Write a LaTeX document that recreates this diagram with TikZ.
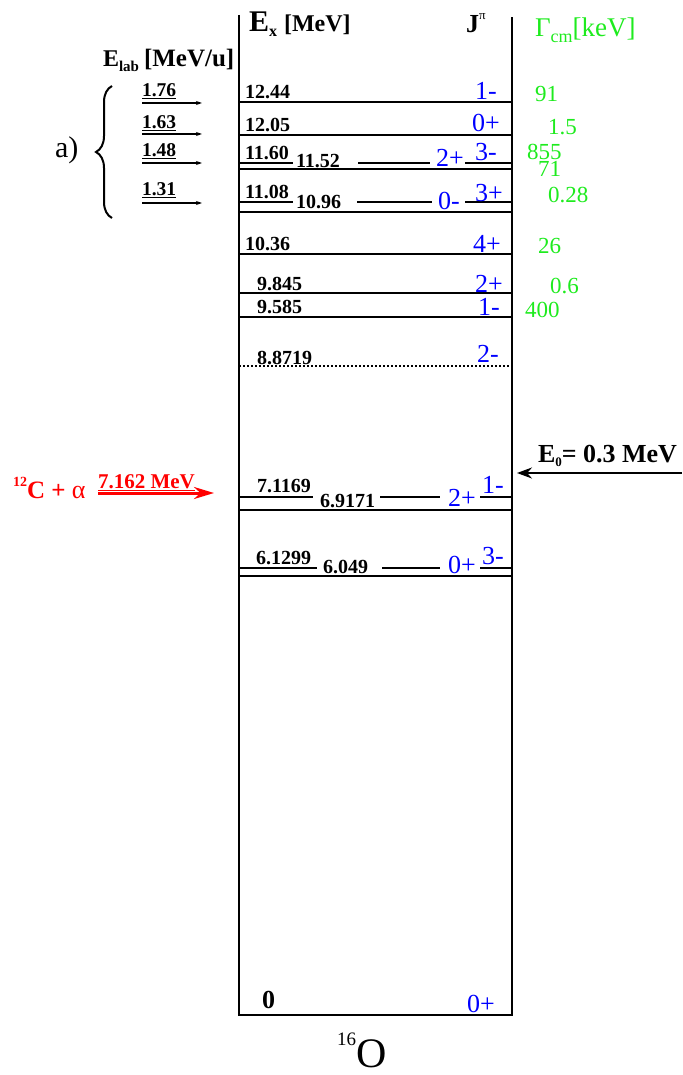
\documentclass[tikz,border=0pt]{standalone}
\usepackage{fontspec}
\setmainfont{Liberation Serif}
\usetikzlibrary{arrows.meta,decorations.pathreplacing}
\definecolor{jblue}{RGB}{0,0,255}
\definecolor{ggreen}{RGB}{30,235,30}
\definecolor{cred}{RGB}{255,0,0}
\newcommand{\fsz}[1]{\fontsize{#1}{#1}\selectfont}
\begin{document}
\begin{tikzpicture}[x=1pt,y=-1pt,
  every node/.style={inner sep=0pt,outer sep=0pt},
  lev/.style={line width=2pt},
  boxline/.style={line width=2.2pt},
  ex/.style={anchor=base west,font=\fsz{20}\bfseries},
  jp/.style={anchor=base west,text=jblue,font=\fsz{26}},
  gam/.style={anchor=base west,text=ggreen,font=\fsz{23}},
  elab/.style={anchor=base west,font=\fsz{19.5}\bfseries},
  smallarrow/.style={line width=1.3pt,-{Stealth[length=6pt,width=4pt]}}]
\useasboundingbox (0,0) rectangle (682,1075);

% box
\coordinate (tl) at (239,15);
\coordinate (tr) at (512,17);
\coordinate (bl) at (239,1015);
\coordinate (br) at (512,1015);
\draw[boxline] (tl) -- (bl) -- (br) -- (tr);

% full levels
\foreach \yy in {102,135,169,212,254,293,317,510,576}
  \draw[lev] (239,\yy) -- (512,\yy);
% segmented levels
\draw[lev] (239,163.5) -- (293,163.5) (358,163.5) -- (430,163.5) (465,163.5) -- (512,163.5);
\draw[lev] (239,202) -- (293,202) (357,202) -- (432,202) (465,202) -- (512,202);
\draw[lev] (239,496.5) -- (313,496.5) (380,496.5) -- (440,496.5) (480,496.5) -- (512,496.5);
\draw[lev] (239,568) -- (317,568) (382,568) -- (440,568) (480,568) -- (512,568);
% dotted level
\draw[line width=2pt,dash pattern=on 2pt off 2pt] (239,366) -- (512,366);

% headers
\node[anchor=base west] (hex) at (249,32) {{\fsz{30}\bfseries E}\raisebox{-5pt}{\fsz{16}\bfseries x}\hspace{7pt}{\fsz{24}\bfseries [MeV]}};
\node[anchor=base west] (hj) at (466,33) {{\fsz{26}\bfseries J}\raisebox{13pt}{\fsz{13}π}};
\node[anchor=base west,text=ggreen] (hg) at (535,37) {{\fsz{27}Γ}\raisebox{-6pt}{\fsz{18}cm}{\fsz{27}[keV]}};
\node[anchor=base west] (hel) at (103,67) {{\fsz{24}\bfseries E}\raisebox{-5pt}{\fsz{15}\bfseries lab}\hspace{5pt}{\fsz{25}\bfseries [MeV/u]}};

% energy labels
\node[ex] (e1244) at (245,99) {12.44};
\node[ex] (e1205) at (245,132) {12.05};
\node[ex] (e1160) at (245,160) {11.60};
\node[ex] (e1152) at (296,168) {11.52};
\node[ex] (e1108) at (245,199) {11.08};
\node[ex] (e1096) at (296,209) {10.96};
\node[ex] (e1036) at (245,251) {10.36};
\node[ex] (e9845) at (257,290) {9.845};
\node[ex] (e9585) at (257,313) {9.585};
\node[ex] (e8871) at (257,364) {8.8719};
\node[ex] (e7116) at (257,492) {7.1169};
\node[ex] (e6917) at (320,507) {6.9171};
\node[ex] (e6129) at (256,564) {6.1299};
\node[ex] (e6049) at (323,573) {6.049};
\node[anchor=base west,font=\fsz{26}\bfseries] (e0) at (262,1008) {0};

% J^pi labels
\node[jp] (j1244) at (475,100) {1-};
\node[jp] (j1205) at (472,132) {0+};
\node[jp] (j1152) at (436,167) {2+};
\node[jp] (j1160) at (475,161) {3-};
\node[jp] (j1096) at (438,210) {0-};
\node[jp] (j1108) at (475,202) {3+};
\node[jp] (j1036) at (473,252) {4+};
\node[jp] (j9845) at (475,292) {2+};
\node[jp] (j9585) at (478,315) {1-};
\node[jp] (j8871) at (477,362) {2-};
\node[jp] (j6917) at (448,506) {2+};
\node[jp] (j7116) at (482,493) {1-};
\node[jp] (j6049) at (448,573) {0+};
\node[jp] (j6129) at (482,564) {3-};
\node[jp] (j0) at (467,1012) {0+};

% widths
\node[gam] (g1) at (535,102) {91};
\node[gam] (g2) at (548,135) {1.5};
\node[gam] (g3) at (527,160) {855};
\node[gam] (g4) at (538,177) {71};
\node[gam] (g5) at (548,203) {0.28};
\node[gam] (g6) at (538,253) {26};
\node[gam] (g7) at (550,293) {0.6};
\node[gam] (g8) at (525,317) {400};

% E_lab arrows
\node[elab] (b1) at (142,97) {\underline{1.76}};
\node[elab] (b2) at (142,129) {\underline{1.63}};
\node[elab] (b3) at (142,157) {\underline{1.48}};
\node[elab] (b4) at (142,196) {\underline{1.31}};
\coordinate (a1s) at (142,103); \coordinate (a1e) at (202,103);
\coordinate (a2s) at (142,134); \coordinate (a2e) at (202,134);
\coordinate (a3s) at (142,163); \coordinate (a3e) at (202,163);
\coordinate (a4s) at (142,203); \coordinate (a4e) at (202,203);
\draw[smallarrow] (a1s) -- (a1e);
\draw[smallarrow] (a2s) -- (a2e);
\draw[smallarrow] (a3s) -- (a3e);
\draw[smallarrow] (a4s) -- (a4e);

% brace and a)
\coordinate (brb) at (112,218);
\coordinate (brt) at (112,86);
\draw[decorate,decoration={brace,amplitude=16pt,aspect=0.5},line width=2pt] (brb) -- (brt);
\node[anchor=base west,font=\fsz{30}] (alab) at (55,158) {a)};

% 12C + alpha
\node[anchor=base west,text=cred] (cal) at (13,498) {\raisebox{12pt}{\fsz{14}\bfseries 12}{\fsz{25}\bfseries C + }{\fsz{26}α}};
\node[anchor=base west,text=cred,font=\fsz{21}\bfseries] (qval) at (98,488) {\underline{7.162 MeV}};
\coordinate (rs) at (98,493); \coordinate (re) at (214,493);
\draw[cred,line width=3pt,-{Stealth[length=20pt,width=12pt]}] (rs) -- (re);

% E0
\node[anchor=base west] (e0lab) at (538,462) {{\fsz{26}\bfseries E}\raisebox{-4pt}{\fsz{13}\bfseries 0}{\fsz{26}\bfseries = 0.3 MeV}};
\coordinate (es) at (682,473); \coordinate (ee) at (517,473);
\draw[line width=2pt,-{Stealth[length=15pt,width=11pt]}] (es) -- (ee);

% 16O
\node[anchor=base west] (nuc) at (337,1067) {\raisebox{22pt}{\fsz{19}16}\fsz{42}O};
\end{tikzpicture}
\end{document}
